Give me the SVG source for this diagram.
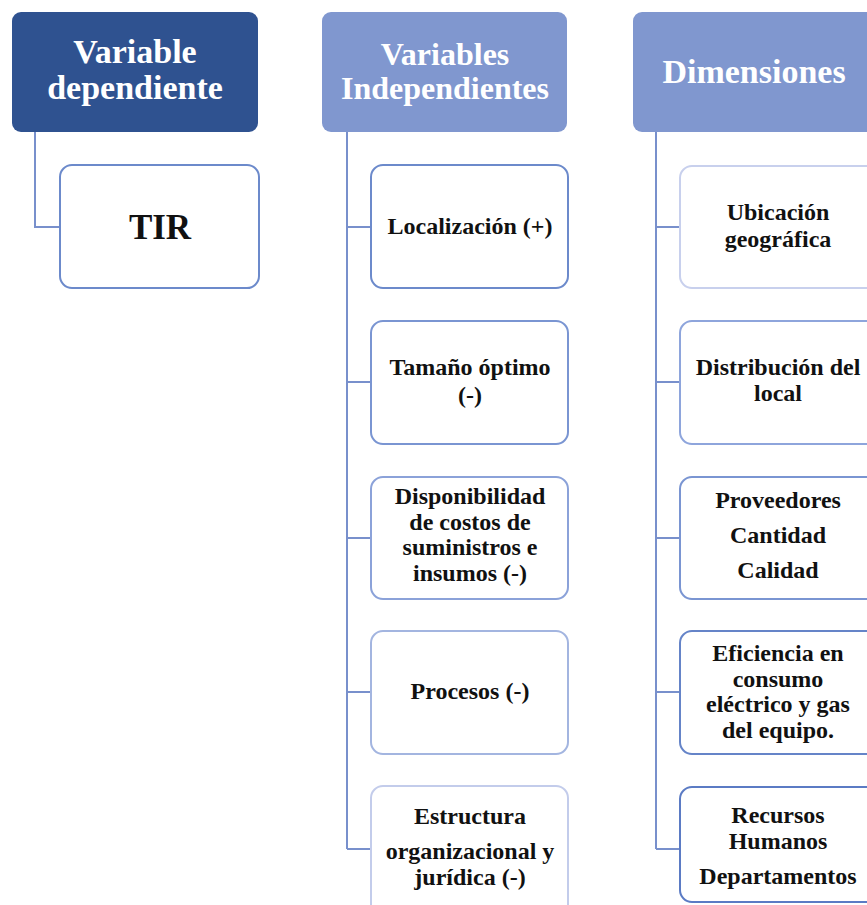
<svg xmlns="http://www.w3.org/2000/svg" width="867" height="905" viewBox="0 0 867 905">
<style>
.hdr{font-family:"Liberation Serif","Times New Roman",serif;font-weight:bold;font-size:34px;fill:#ffffff;text-anchor:middle}
.h2t{font-size:32px}
.txt{font-family:"Liberation Serif","Times New Roman",serif;font-weight:bold;font-size:24px;fill:#111111;text-anchor:middle}
.big{font-size:35px}
.box{fill:#ffffff;stroke-width:2}
.conn{fill:none;stroke:#7890CC;stroke-width:2}
</style>
<rect width="867" height="905" fill="#ffffff"/>
<g id="connectors">
<path class="conn" d="M35 132V227H60"/>
<path class="conn" d="M347 132V849M347 227H371M347 382H371M347 538H371M347 692H371M347 849H371"/>
<path class="conn" d="M656 132V849M656 227H680M656 382H680M656 538H680M656 692H680M656 849H680"/>
</g>
<g id="h1"><rect x="12" y="12" width="246" height="120" rx="9" fill="#2F5290"/>
<text class="hdr" x="135" y="63">Variable</text><text class="hdr" x="135" y="99">dependiente</text></g>
<g id="tir"><rect class="box" x="60" y="165" width="199" height="123" rx="12" stroke="#6C8ACB"/>
<text class="txt big" x="160" y="239">TIR</text></g>
<g id="h2"><rect x="322" y="12" width="245" height="120" rx="9" fill="#8097CF"/>
<text class="hdr h2t" x="445" y="65">Variables</text><text class="hdr h2t" x="445" y="99">Independientes</text></g>
<g id="loc"><rect class="box" x="371" y="165" width="197" height="123" rx="12" stroke="#6C8ACB"/>
<text class="txt" x="470" y="234">Localización (+)</text></g>
<g id="tam"><rect class="box" x="371" y="321" width="197" height="123" rx="12" stroke="#7A95D2"/>
<text class="txt" x="470" y="375">Tamaño óptimo</text><text class="txt" x="470" y="403">(-)</text></g>
<g id="disp"><rect class="box" x="371" y="477" width="197" height="122" rx="12" stroke="#8BA2D9"/>
<text class="txt" x="470" y="504">Disponibilidad</text><text class="txt" x="470" y="530">de costos de</text><text class="txt" x="470" y="555">suministros e</text><text class="txt" x="470" y="581">insumos (-)</text></g>
<g id="proc"><rect class="box" x="371" y="631" width="197" height="123" rx="12" stroke="#A3B5E0"/>
<text class="txt" x="470" y="699">Procesos (-)</text></g>
<g id="estr"><rect class="box" x="371" y="786" width="197" height="130" rx="12" stroke="#C3CCEB"/>
<text class="txt" x="470" y="824">Estructura</text><text class="txt" x="470" y="859">organizacional y</text><text class="txt" x="470" y="885">jurídica (-)</text></g>
<g id="h3"><rect x="633" y="12" width="250" height="120" rx="9" fill="#8097CF"/>
<text class="hdr" x="754" y="83">Dimensiones</text></g>
<g id="ubi"><rect class="box" x="680" y="166" width="200" height="122" rx="12" stroke="#C8D0ED"/>
<text class="txt" x="778" y="220">Ubicación</text><text class="txt" x="778" y="247">geográfica</text></g>
<g id="dist"><rect class="box" x="680" y="321" width="200" height="123" rx="12" stroke="#8EA5DC"/>
<text class="txt" x="778" y="375">Distribución del</text><text class="txt" x="778" y="401">local</text></g>
<g id="prov"><rect class="box" x="680" y="477" width="200" height="122" rx="12" stroke="#7A95D2"/>
<text class="txt" x="778" y="508">Proveedores</text><text class="txt" x="778" y="543">Cantidad</text><text class="txt" x="778" y="578">Calidad</text></g>
<g id="efi"><rect class="box" x="680" y="631" width="200" height="123" rx="12" stroke="#6584C8"/>
<text class="txt" x="778" y="661">Eficiencia en</text><text class="txt" x="778" y="687">consumo</text><text class="txt" x="778" y="712">eléctrico y gas</text><text class="txt" x="778" y="738">del equipo.</text></g>
<g id="rec"><rect class="box" x="680" y="787" width="200" height="115" rx="12" stroke="#5B7BC4"/>
<text class="txt" x="778" y="823">Recursos</text><text class="txt" x="778" y="849">Humanos</text><text class="txt" x="778" y="884">Departamentos</text></g>
</svg>
